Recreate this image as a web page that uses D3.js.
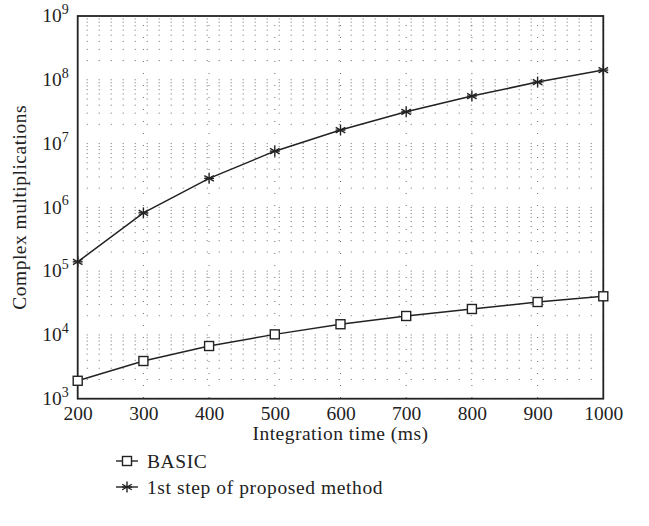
<!DOCTYPE html>
<html><head><meta charset="utf-8">
<script src="https://cdn.jsdelivr.net/npm/d3@7"></script>
<style>body{margin:0;background:#fff}svg{display:block}text{font-family:"Liberation Serif","Times New Roman",serif;fill:#222}</style>
</head><body><svg id="c" width="649" height="526"></svg>
<script>
const times = [200, 300, 400, 500, 600, 700, 800, 900, 1000];
const basic = [1910, 3900, 6700, 10200, 14700, 19800, 25500, 32800, 40300];
const proposed = [140000, 820000, 2850000, 7600000, 16300000, 31500000, 55600000, 92000000, 142000000];
const xTicks = [200, 300, 400, 500, 600, 700, 800, 900, 1000];
const yExps = [3, 4, 5, 6, 7, 8, 9];
const seriesNames = ["BASIC", "1st step of proposed method"];
const xTitle = "Integration time (ms)";
const yTitle = "Complex multiplications";

const svg = d3.select("#c");
const L = 77.7, R = 603.3, T = 16, B = 398.7;
const x = d3.scaleLinear().domain([200, 1000]).range([L, R]);
const y = d3.scaleLog().domain([1e3, 1e9]).range([B, T]);

// grid
const g = svg.append("g");
const minor = [];
for (let k = 3; k < 9; k++) for (let m = 1; m <= 9; m++) minor.push(m * Math.pow(10, k));
g.selectAll("line.h").data(minor).join("line")
  .attr("x1", L).attr("x2", R).attr("y1", d => y(d)).attr("y2", d => y(d))
  .attr("stroke", "#6a6a6a").attr("stroke-width", 1).attr("stroke-dasharray", "1,11").attr("stroke-dashoffset", 3);
g.selectAll("line.v").data(xTicks.slice(1, -1)).join("line")
  .attr("x1", d => x(d)).attr("x2", d => x(d)).attr("y1", T).attr("y2", B)
  .attr("stroke", "#6a6a6a").attr("stroke-width", 1).attr("stroke-dasharray", "1,11").attr("stroke-dashoffset", 3);

// frame
svg.append("rect").attr("x", L).attr("y", T).attr("width", R - L).attr("height", B - T)
  .attr("fill", "none").attr("stroke", "#222").attr("stroke-width", 1.8);

const FS = 19.5;
// axes
const xAxis = d3.axisBottom(x).tickValues(xTicks).tickSize(0).tickPadding(7).tickFormat(d3.format("d"));
const xg = svg.append("g").attr("transform", `translate(0,${B})`).call(xAxis);
xg.select(".domain").remove();
xg.selectAll("text").attr("font-size", FS).attr("font-family", "Liberation Serif").attr("fill", "#222").attr("dy", "0.71em");

const yg = svg.append("g").attr("transform", `translate(${L},0)`)
  .call(d3.axisLeft(y).tickValues(yExps.map(e => Math.pow(10, e))).tickSize(0).tickFormat(""));
yg.select(".domain").remove();
yg.selectAll(".tick").each(function(d) {
  const e = Math.round(Math.log10(d));
  const t = d3.select(this).append("text").attr("x", -9).attr("y", 0).attr("dy", "0.3em")
    .attr("text-anchor", "end").attr("font-size", FS).attr("fill", "#222");
  t.append("tspan").text("10");
  t.append("tspan").attr("font-size", 14).attr("dy", "-0.6em").text(e);
});

svg.append("text").attr("x", (L + R) / 2).attr("y", 440).attr("text-anchor", "middle")
  .attr("font-size", FS).attr("letter-spacing", 0.5).text(xTitle);
svg.append("text").attr("transform", `translate(26,${(T + B) / 2}) rotate(-90)`)
  .attr("text-anchor", "middle").attr("font-size", FS).attr("letter-spacing", 0.5).text(yTitle);

// lines
const line = d3.line().x((d, i) => x(times[i])).y(d => y(d));
svg.append("path").datum(basic).attr("d", line).attr("fill", "none").attr("stroke", "#222").attr("stroke-width", 1.5);
svg.append("path").datum(proposed).attr("d", line).attr("fill", "none").attr("stroke", "#222").attr("stroke-width", 1.5);

function square(sel, cx, cy) {
  sel.append("rect").attr("x", cx - 4.5).attr("y", cy - 4.5).attr("width", 9).attr("height", 9)
    .attr("fill", "#fff").attr("stroke", "#222").attr("stroke-width", 1.4);
}
function star(sel, cx, cy) {
  const r = 5.5;
  const gg = sel.append("g").attr("transform", `translate(${cx},${cy})`);
  [0, 60, 120].forEach(a => {
    const rad = (a + 90) * Math.PI / 180;
    gg.append("line").attr("x1", -r * Math.cos(rad)).attr("y1", -r * Math.sin(rad))
      .attr("x2", r * Math.cos(rad)).attr("y2", r * Math.sin(rad))
      .attr("stroke", "#222").attr("stroke-width", 1.4);
  });
  gg.append("line").attr("x1", -r * 0.9).attr("x2", r * 0.9).attr("y1", 0).attr("y2", 0).attr("stroke", "#222").attr("stroke-width", 1.4);
}
basic.forEach((v, i) => square(svg, x(times[i]), y(v)));
proposed.forEach((v, i) => star(svg, x(times[i]), y(v)));

// legend
const legY = [461, 487];
legY.forEach((ly, i) => {
  svg.append("line").attr("x1", 116).attr("x2", 138).attr("y1", ly).attr("y2", ly).attr("stroke", "#222").attr("stroke-width", 1.4);
  if (i === 0) square(svg, 127, ly); else star(svg, 127, ly);
  svg.append("text").attr("x", 147).attr("y", ly).attr("dy", "0.35em").attr("font-size", FS).attr("letter-spacing", 0.6).text(seriesNames[i]);
});
</script></body></html>
